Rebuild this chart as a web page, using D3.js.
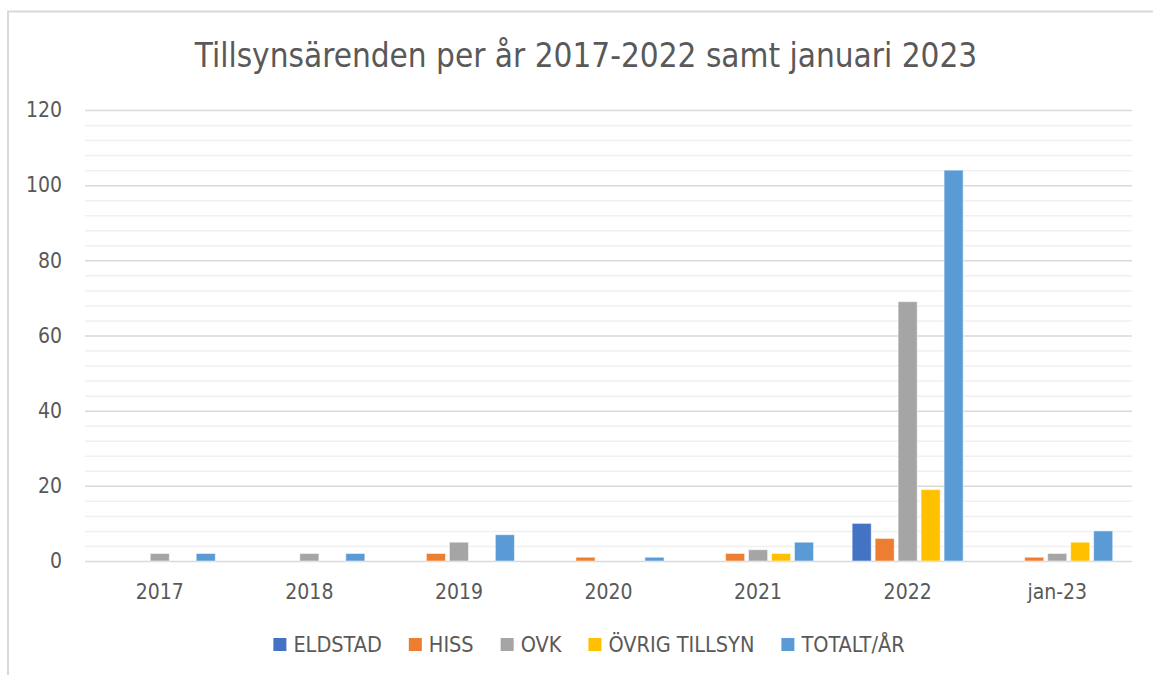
<!DOCTYPE html>
<html>
<head>
<meta charset="utf-8">
<script src="https://cdn.jsdelivr.net/npm/d3@7"></script>
<style>
  body { margin: 0; background: #fff; }
  svg text { font-family: "Liberation Sans Narrow", "DejaVu Sans Condensed", sans-serif; fill: #595959; }
</style>
</head>
<body>
<svg id="chart" width="1153" height="675"></svg>
<script>
// values
const categories = ['2017', '2018', '2019', '2020', '2021', '2022', 'jan-23'];
const seriesNames = ['ELDSTAD', 'HISS', 'OVK', 'ÖVRIG TILLSYN', 'TOTALT/ÅR'];
const eldstad = [0, 0, 0, 0, 0, 10, 0];
const hiss = [0, 0, 2, 1, 2, 6, 1];
const ovk = [2, 2, 5, 0, 3, 69, 2];
const ovrig = [0, 0, 0, 0, 2, 19, 5];
const totalt = [2, 2, 7, 1, 5, 104, 8];
const yTicks = [0, 20, 40, 60, 80, 100, 120];
const colors = ['#4472C4', '#ED7D31', '#A5A5A5', '#FFC000', '#5B9BD5'];

const seriesValues = [eldstad, hiss, ovk, ovrig, totalt];
const rows = [];
categories.forEach((c, i) => {
  seriesNames.forEach((s, j) => {
    rows.push({ cat: c, series: s, value: seriesValues[j][i], color: colors[j] });
  });
});

const svg = d3.select('#chart');

// chart frame (only top and left edges visible in the crop)
svg.append('path')
  .attr('d', 'M8,675 L8,11.5 L1153,11.5')
  .attr('fill', 'none')
  .attr('stroke', '#d9d9d9')
  .attr('stroke-width', 2);

const plotLeft = 85, plotRight = 1132, plotTop = 110, plotBottom = 561;

const xScale = d3.scaleBand()
  .domain(categories)
  .range([plotLeft, plotRight]);

const bw = xScale.bandwidth();
const xSub = d3.scaleBand()
  .domain(seriesNames)
  .range([bw / 2 - 55.5, bw / 2 + 55.5])
  .paddingInner(0.17);

const yScale = d3.scaleLinear()
  .domain([0, 120])
  .range([plotBottom, plotTop]);

// minor gridlines
svg.append('g')
  .attr('transform', `translate(${plotLeft},0)`)
  .call(d3.axisLeft(yScale)
    .tickValues(d3.range(0, 121, 4).filter(v => v % 20 !== 0))
    .tickSize(-(plotRight - plotLeft))
    .tickFormat(''))
  .call(g => g.select('.domain').remove())
  .call(g => g.selectAll('line').attr('stroke', '#f0f0f0').attr('stroke-width', 1.5));

// major gridlines + labels
svg.append('g')
  .attr('transform', `translate(${plotLeft},0)`)
  .call(d3.axisLeft(yScale)
    .tickValues(yTicks)
    .tickSize(-(plotRight - plotLeft))
    .tickPadding(23))
  .call(g => g.select('.domain').remove())
  .call(g => g.selectAll('line').attr('stroke', '#d9d9d9').attr('stroke-width', 1.5))
  .call(g => g.selectAll('text').attr('font-size', 21).style('fill', '#595959'));

// bars
svg.append('g')
  .selectAll('rect')
  .data(rows.filter(d => d.value > 0))
  .join('rect')
  .attr('x', d => xScale(d.cat) + xSub(d.series))
  .attr('y', d => yScale(d.value))
  .attr('width', xSub.bandwidth())
  .attr('height', d => yScale(0) - yScale(d.value))
  .attr('fill', d => d.color)
  .attr('stroke', '#ffffff')
  .attr('stroke-opacity', 0.5)
  .attr('stroke-width', 1);

// category axis
svg.append('g')
  .attr('transform', `translate(0,${plotBottom})`)
  .call(d3.axisBottom(xScale).tickSize(0).tickPadding(23))
  .call(g => g.select('.domain').remove())
  .call(g => g.selectAll('text').attr('font-size', 21).style('fill', '#595959'));

// title
svg.append('text')
  .attr('x', 586)
  .attr('y', 67)
  .attr('text-anchor', 'middle')
  .attr('font-size', 33)
  .text('Tillsynsärenden per år 2017-2022 samt januari 2023');

// legend
const legend = svg.append('g');
const items = legend.selectAll('g')
  .data(seriesNames)
  .join('g');
items.append('rect')
  .attr('width', 13)
  .attr('height', 13)
  .attr('y', -14)
  .attr('fill', (d, i) => colors[i]);
items.append('text')
  .attr('x', 20)
  .attr('font-size', 21.5)
  .text(d => d);

let cursor = 0;
items.each(function () {
  const w = 20 + this.querySelector('text').getComputedTextLength();
  d3.select(this).attr('transform', `translate(${cursor},0)`);
  cursor += w + 27;
});
const legendWidth = cursor - 27;
legend.attr('transform', `translate(${589 - legendWidth / 2},652)`);
</script>
</body>
</html>
